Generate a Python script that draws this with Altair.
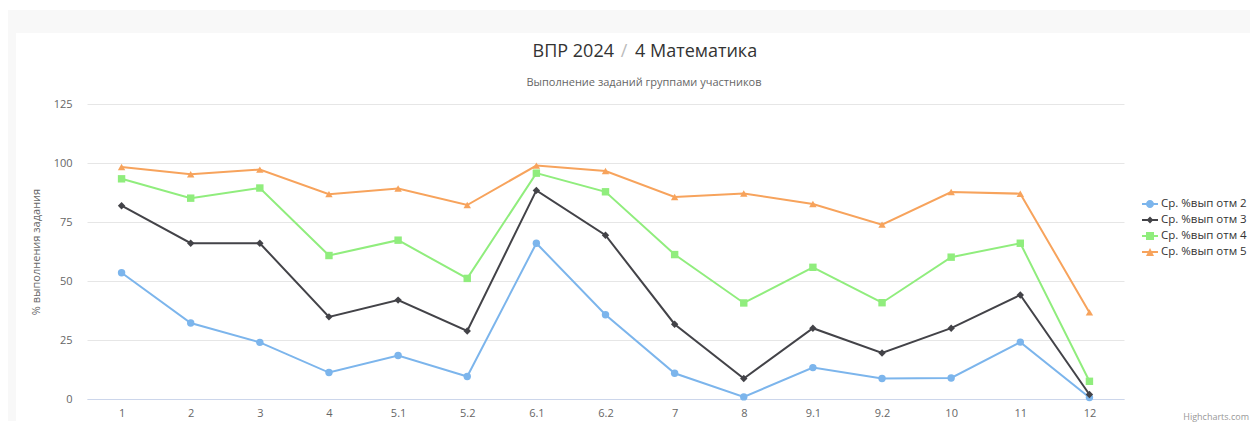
import altair as alt
import pandas as pd

categories = ["1", "2", "3", "4", "5.1", "5.2", "6.1", "6.2", "7", "8", "9.1", "9.2", "10", "11", "12"]
series_names = ["Ср. %вып отм 2", "Ср. %вып отм 3", "Ср. %вып отм 4", "Ср. %вып отм 5"]
otm2 = [53.5, 32.2, 24.0, 11.2, 18.4, 9.5, 66.0, 35.7, 10.9, 0.9, 13.3, 8.7, 8.9, 24.1, 0.6]
otm3 = [81.9, 66.0, 66.0, 34.8, 41.9, 28.8, 88.4, 69.4, 31.7, 8.7, 30.0, 19.5, 30.0, 44.1, 1.9]
otm4 = [93.3, 85.1, 89.4, 60.8, 67.3, 51.1, 95.7, 87.8, 61.2, 40.7, 55.8, 40.8, 60.1, 66.0, 7.5]
otm5 = [98.3, 95.2, 97.2, 86.8, 89.2, 82.2, 98.9, 96.6, 85.6, 87.1, 82.6, 73.9, 87.7, 87.0, 36.7]
y_ticks = [0, 25, 50, 75, 100, 125]

title_left = "ВПР 2024"
title_sep = "/"
title_right = "4 Математика"
subtitle = "Выполнение заданий группами участников"
credit_text = "Highcharts.com"

colors = ["#7cb5ec", "#434348", "#90ed7d", "#f7a35c"]
shapes = ["circle", "diamond", "square", "triangle-up"]
line_path = "M-1,-0.125H1V0.125H-1Z"
legend_shapes = [
    line_path + " M0.5,0A0.5,0.5 0 1,1 -0.5,0A0.5,0.5 0 1,1 0.5,0Z",
    line_path + " M0,-0.45L0.42,0L0,0.45L-0.42,0Z",
    line_path + " M-0.5,-0.5H0.5V0.5H-0.5Z",
    line_path + " M0,-0.5L0.5,0.5H-0.5Z",
]

rows = []
for name, vals in zip(series_names, [otm2, otm3, otm4, otm5]):
    for i, (c, v) in enumerate(zip(categories, vals)):
        rows.append({"task": c, "order": i, "series": name, "value": v})
df = pd.DataFrame(rows)

FONT = "Open Sans"

x_enc = alt.X("task:N", sort=categories, scale=alt.Scale(padding=0.5),
              axis=alt.Axis(title=None, labelAngle=0, labelColor="#666666", labelFontSize=11,
                            labelFont=FONT, domainColor="#ccd6eb", ticks=False, grid=False,
                            labelPadding=8))
y_enc = alt.Y("value:Q", scale=alt.Scale(domain=[0, 125], nice=False),
              axis=alt.Axis(title="% выполнения задания", values=y_ticks, domain=False, ticks=False,
                            gridColor="#e6e6e6", labelColor="#666666", labelFontSize=11,
                            labelFont=FONT, labelPadding=15, titleFont=FONT, titleFontSize=11,
                            titleColor="#666666", titleFontWeight="normal", titlePadding=12))


def color_scale():
    return alt.Scale(domain=series_names, range=colors)


base = alt.Chart(df)

lines = base.mark_line(strokeWidth=2).encode(
    x=x_enc, y=y_enc,
    color=alt.Color("series:N", scale=color_scale(), legend=None),
    detail="series:N",
    order="order:Q",
)

points = base.mark_point(filled=True, opacity=1, size=55).encode(
    x=x_enc, y=y_enc,
    color=alt.Color("series:N", scale=color_scale(), legend=None),
    shape=alt.Shape("series:N", scale=alt.Scale(domain=series_names, range=shapes), legend=None),
)


def legend_params():
    return alt.Legend(title=None, orient="none", legendX=1055, legendY=92,
                      labelFont=FONT, labelFontSize=11.5, labelColor="#333333",
                      symbolSize=256, symbolStrokeWidth=0, symbolOpacity=1,
                      rowPadding=2, labelOffset=3, padding=0)


legend_layer = base.mark_point(filled=True, opacity=0).encode(
    x=x_enc, y=y_enc,
    color=alt.Color("series:N", scale=color_scale(), legend=legend_params()),
    shape=alt.Shape("series:N", scale=alt.Scale(domain=series_names, range=legend_shapes),
                    legend=legend_params()),
)

deco = pd.DataFrame({"k": [0]})
band_top = alt.Chart(deco).mark_rect(color="#f8f8f8").encode(
    x=alt.value(-79), x2=alt.value(1163), y=alt.value(-94), y2=alt.value(-71))
band_left = alt.Chart(deco).mark_rect(color="#f8f8f8").encode(
    x=alt.value(-79), x2=alt.value(-71), y=alt.value(-71), y2=alt.value(317))

t1 = alt.Chart(deco).mark_text(align="right", baseline="middle", fontSize=18, color="#333333",
                               font=FONT).encode(
    x=alt.value(527), y=alt.value(-52), text=alt.value(title_left))
t2 = alt.Chart(deco).mark_text(align="center", baseline="middle", fontSize=18, color="#bbbbbb",
                               font=FONT).encode(
    x=alt.value(537), y=alt.value(-52), text=alt.value(title_sep))
t3 = alt.Chart(deco).mark_text(align="left", baseline="middle", fontSize=18, color="#333333",
                               font=FONT).encode(
    x=alt.value(548), y=alt.value(-52), text=alt.value(title_right))
sub = alt.Chart(deco).mark_text(align="center", baseline="middle", fontSize=11, color="#666666",
                                font=FONT).encode(
    x=alt.value(557), y=alt.value(-21), text=alt.value(subtitle))
credit = alt.Chart(deco).mark_text(align="right", baseline="alphabetic", fontSize=9,
                                   color="#999999", font=FONT).encode(
    x=alt.value(1162), y=alt.value(316), text=alt.value(credit_text))

chart = alt.layer(band_top, band_left, lines, points, legend_layer, t1, t2, t3, sub, credit).resolve_scale(
    shape="independent", color="independent"
).properties(
    width=1037, height=295,
    padding={"left": 0, "top": 2, "right": 0, "bottom": 0},
).configure_view(stroke=None)

chart.save("out.html", embed_options={"renderer": "svg", "actions": False})
